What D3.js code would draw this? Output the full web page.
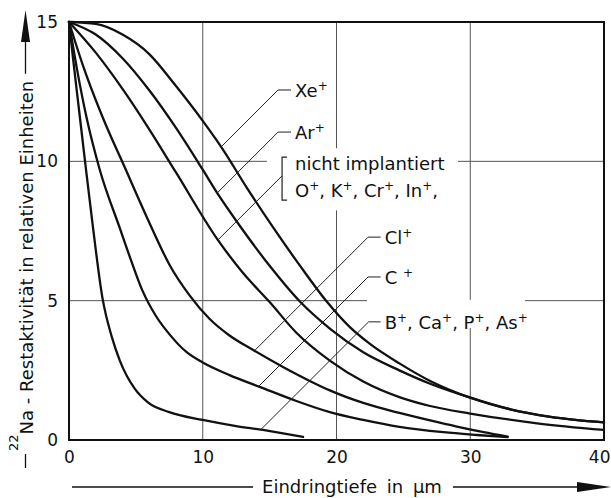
<!DOCTYPE html>
<html>
<head>
<meta charset="UTF-8">
<script src="https://d3js.org/d3.v7.min.js"></script>
<style>
  body { margin: 0; background: #fff; }
  svg text { font-family: "DejaVu Sans", sans-serif; fill: #111; }
</style>
</head>
<body>
<svg></svg>
<script>
const width = 611, height = 498;

// axes
const xTicks = [0, 10, 20, 30, 40];
const yTicks = [0, 5, 10, 15];
const xGrid = [10, 20, 30];
const yGrid = [5, 10];

// curves: [Eindringtiefe in µm, Restaktivität]
const xeValues = [[0,15],[2,14.93],[4,14.55],[6,13.85],[8,12.7],[10,11.45],[11.4,10.5],[13.3,9.05],[15.3,7.6],[17.2,6.3],[19.3,4.95],[21,4.05],[22.5,3.45],[24.7,2.75],[27,2.12],[30,1.52],[33,1.1],[36,0.83],[40,0.63]];
const arValues = [[0,15],[2,14.55],[4,13.7],[6,12.55],[8,11.2],[10,9.7],[11.1,8.85],[12.9,7.6],[15,6.25],[17.3,4.95],[19.5,4.0],[22,3.15],[24.7,2.5],[27,2.02],[30,1.52],[33,1.1],[36,0.83],[40,0.63]];
const nichtValues = [[0,15],[2,13.9],[4,12.6],[6,11.15],[8,9.6],[11.1,7.2],[13,6.0],[15,4.95],[17,3.85],[19.5,2.85],[22,2.1],[24.7,1.54],[27,1.22],[30,0.95],[35,0.6],[40,0.36]];
const clValues = [[0,15],[1,13.5],[2.5,11.6],[4.2,9.75],[6.1,7.7],[7.5,6.3],[9,5.2],[10.5,4.35],[12,3.75],[13.8,3.22],[16,2.62],[18,2.12],[19.5,1.78],[22,1.33],[24.7,0.97],[27,0.7],[29,0.48],[31,0.28],[32.8,0.12]];
const cValues = [[0,15],[0.6,13.3],[1.3,11.6],[2.3,9.7],[3.8,7.6],[4.6,6.5],[5.5,5.35],[6.5,4.45],[7.5,3.8],[8.8,3.15],[10,2.78],[12,2.33],[14.3,1.9],[17,1.4],[19.5,1.0],[22,0.72],[24.7,0.47],[28,0.28],[30.5,0.18],[32.8,0.1]];
const bValues = [[0,15],[0.3,13.7],[0.7,12.05],[1.2,10.0],[1.8,7.6],[2.5,5.1],[3.2,3.7],[3.8,2.85],[4.9,1.85],[5.9,1.35],[7.5,1.0],[10,0.72],[12.5,0.5],[14.5,0.36],[16,0.24],[17.5,0.11]];

// label texts: [base, superscript]
const xeLabel = [["Xe", "+"]];
const arLabel = [["Ar", "+"]];
const nichtLabel1 = [["nicht  implantiert", ""]];
const nichtLabel2 = [["O", "+"], [", K", "+"], [", Cr", "+"], [", In", "+"], [",", ""]];
const clLabel = [["Cl", "+"]];
const cLabel = [["C ", "+"]];
const bLabel = [["B", "+"], [", Ca", "+"], [", P", "+"], [", As", "+"]];

const x = d3.scaleLinear().domain([0, 40]).range([69, 604]);
const y = d3.scaleLinear().domain([0, 15]).range([440, 22]);

const svg = d3.select("svg")
	.attr("width", width)
	.attr("height", height)
	.attr("viewBox", [0, 0, width, height]);

// grid
svg.append("g")
	.attr("stroke", "#555")
	.attr("stroke-width", 1)
	.call(g => g.selectAll(".vx").data(xGrid).join("line")
		.attr("x1", d => x(d)).attr("x2", d => x(d))
		.attr("y1", y(15)).attr("y2", y(0)))
	.call(g => g.selectAll(".hy").data(yGrid).join("line")
		.attr("x1", x(0)).attr("x2", x(40))
		.attr("y1", d => y(d)).attr("y2", d => y(d)));

// gaps in the grid behind the label blocks
const clearBoxes = [[14.8, 29.08, 8.24, 10.47], [22.28, 34.1, 4.02, 5.03]];
svg.append("g").selectAll("rect")
	.data(clearBoxes)
	.join("rect")
	.attr("x", d => x(d[0]))
	.attr("width", d => x(d[1]) - x(d[0]))
	.attr("y", d => y(d[3]))
	.attr("height", d => y(d[2]) - y(d[3]))
	.attr("fill", "#fff");

// frame
svg.append("rect")
	.attr("x", x(0)).attr("y", y(15))
	.attr("width", x(40) - x(0)).attr("height", y(0) - y(15))
	.attr("fill", "none").attr("stroke", "#111").attr("stroke-width", 2);

// curves
const series = [
	{name: "xe", values: xeValues},
	{name: "ar", values: arValues},
	{name: "nicht", values: nichtValues},
	{name: "cl", values: clValues},
	{name: "c", values: cValues},
	{name: "b", values: bValues}
];

const line = d3.line()
	.x(d => x(d[0]))
	.y(d => y(d[1]))
	.curve(d3.curveMonotoneX);

const paths = {};
svg.append("g")
	.attr("fill", "none")
	.attr("stroke", "#111")
	.attr("stroke-width", 2.3)
	.attr("stroke-linecap", "round")
	.selectAll("path")
	.data(series)
	.join("path")
	.attr("d", d => line(d.values))
	.each(function(d) { paths[d.name] = this; });

// where a 45° leader from (ex, ey) down-left meets a curve
function hit(node, ex, ey) {
	const L = node.getTotalLength();
	const target = ex + ey;
	let prev = node.getPointAtLength(0);
	for (let i = 1; i <= 1500; i++) {
		const p = node.getPointAtLength(L * i / 1500);
		if (p.x + p.y >= target) {
			const a = prev.x + prev.y, b = p.x + p.y;
			const t = b === a ? 0 : (target - a) / (b - a);
			return {x: prev.x + t * (p.x - prev.x), y: prev.y + t * (p.y - prev.y)};
		}
		prev = p;
	}
	return prev;
}

function rich(text, parts, supSize) {
	let shift = 0;
	parts.forEach(([base, sup]) => {
		if (base) text.append("tspan").attr("dy", -shift).text(base), shift = 0;
		if (sup) {
			text.append("tspan").attr("dy", -7).attr("font-size", supSize).text(sup);
			shift = -7;
		}
	});
}

// labels: elbow of leader (data units), text start
const labels = [
	{curve: "xe", ex: 15.63, ey: 12.56, tx: 16.9, parts: [xeLabel]},
	{curve: "ar", ex: 15.63, ey: 11.05, tx: 16.9, parts: [arLabel]},
	{curve: "nicht", ex: 15.93, ey: 9.48, tx: 16.9, parts: [nichtLabel1, nichtLabel2], bracket: [10.15, 8.61]},
	{curve: "cl", ex: 22.36, ey: 7.28, tx: 23.6, parts: [clLabel]},
	{curve: "c", ex: 22.36, ey: 5.85, tx: 23.6, parts: [cLabel]},
	{curve: "b", ex: 22.4, ey: 4.24, tx: 23.6, parts: [bLabel]}
];

const lg = svg.append("g");
labels.forEach(l => {
	const ex = x(l.ex), ey = y(l.ey);
	const p = hit(paths[l.curve], ex, ey);
	const d = l.bracket
		? `M${p.x},${p.y}L${ex},${ey}`
		: `M${p.x},${p.y}L${ex},${ey}H${x(l.tx) - 4}`;
	lg.append("path").attr("d", d).attr("fill", "none").attr("stroke", "#222").attr("stroke-width", 1);
	if (l.bracket) {
		const [top, bot] = l.bracket;
		lg.append("path")
			.attr("d", `M${ex + 5},${y(top)}H${ex}V${y(bot)}H${ex + 5}`)
			.attr("fill", "none").attr("stroke", "#222").attr("stroke-width", 1.2);
		l.parts.forEach((pp, i) => {
			const t = lg.append("text").attr("x", x(l.tx)).attr("y", y(top) + 13 + i * 27).attr("font-size", 18);
			rich(t, pp, 12);
		});
	} else {
		const t = lg.append("text").attr("x", x(l.tx)).attr("y", ey + 7).attr("font-size", 18);
		rich(t, l.parts[0], 12);
	}
});

// tick labels
svg.append("g")
	.attr("transform", `translate(0,${y(0)})`)
	.call(d3.axisBottom(x).tickValues(xTicks).tickSize(0).tickPadding(11))
	.call(g => g.select(".domain").remove())
	.call(g => g.selectAll(".tick").filter(d => d === 40).select("text")
		.attr("text-anchor", "end").attr("x", width - x(40) - 1))
	.attr("font-size", 17).attr("font-family", null);

svg.append("g")
	.attr("transform", `translate(${x(0)},0)`)
	.call(d3.axisLeft(y).tickValues(yTicks).tickSize(0).tickPadding(11))
	.call(g => g.select(".domain").remove())
	.attr("font-size", 17).attr("font-family", null);

svg.selectAll(".tick text").attr("fill", "#111");

// x title with arrow
const xt = svg.append("text")
	.attr("x", 352).attr("y", 493)
	.attr("text-anchor", "middle")
	.attr("font-size", 18)
	.attr("word-spacing", 4)
	.text("Eindringtiefe in µm");
const xb = xt.node().getBBox();
svg.append("path")
	.attr("d", `M72,487H${xb.x - 9}M${xb.x + xb.width + 11},487H590`)
	.attr("stroke", "#111").attr("stroke-width", 1.3);
svg.append("path")
	.attr("d", "M577,482L611,487L577,492Z")
	.attr("fill", "#111");

// y title with arrow
const yt = svg.append("text")
	.attr("transform", "translate(33,451) rotate(-90)")
	.attr("font-size", 18);
yt.append("tspan").attr("font-size", 13).attr("dy", -15).text("22");
yt.append("tspan").attr("dy", 15).text("Na - Restaktivität in relativen Einheiten");
const yLen = yt.node().getComputedTextLength();
svg.append("path")
	.attr("d", `M25.5,468V454M25.5,${451 - yLen - 7}V40`)
	.attr("stroke", "#111").attr("stroke-width", 1.3);
svg.append("path")
	.attr("d", "M21,42L25.5,10L30,42Z")
	.attr("fill", "#111");
</script>
</body>
</html>
